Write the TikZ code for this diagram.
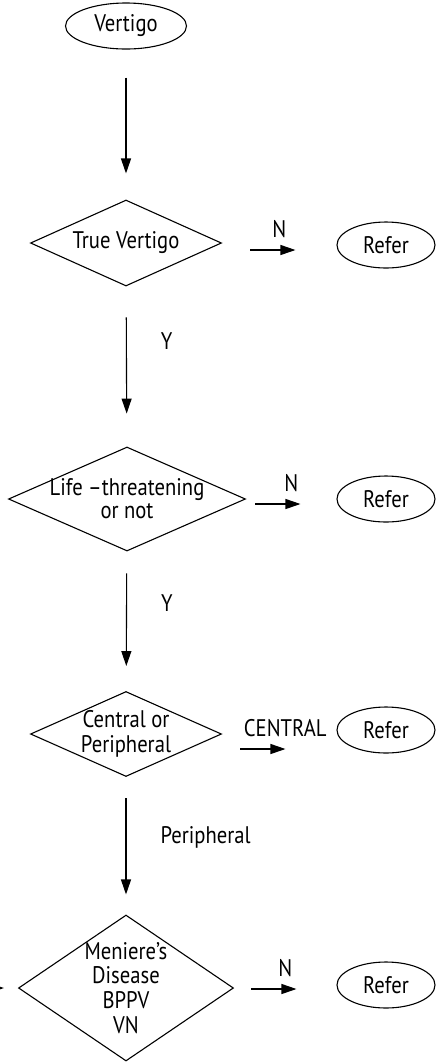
\documentclass[tikz,border=0pt]{standalone}
\usepackage{fontspec}
\setmainfont{PT Sans}[FakeStretch=0.86]
\usepackage{tikz}
\usetikzlibrary{positioning, arrows.meta, shapes.geometric}

\tikzset{
  startend/.style={ellipse, draw, line width=0.55pt, inner sep=0pt, minimum width=60.5pt, minimum height=23pt},
  referbox/.style={ellipse, draw, line width=0.55pt, inner sep=0pt, minimum width=49pt, minimum height=23pt},
  decision/.style={diamond, draw, line width=0.55pt, inner sep=-2.5pt, align=center},
  flow/.style={-{Triangle[length=7.5pt,width=5pt]}, line width=0.55pt},
  answer/.style={inner sep=2pt},
}

\begin{document}
\begin{tikzpicture}[x=0.5pt, y=-0.5pt, font=\fontsize{12}{12.4}\selectfont]
    \useasboundingbox (0,0) rectangle (435,1062);

    % main column
    \node[startend] (vertigo) at (126,26) {Vertigo};
    \node[decision, aspect=2.2, minimum width=95.5pt, minimum height=43pt] (truev) at (126,243) {True Vertigo};
    \node[decision, aspect=2.28, minimum width=118.5pt, minimum height=52pt,
          font=\fontsize{12}{11.4}\selectfont] (life) at (127,499) {Life --threatening\\or not};
    \node[decision, aspect=2.25, minimum width=95.5pt, minimum height=42.5pt] (centper) at (126,734) {Central or\\Peripheral};
    \node[decision, aspect=1.47, minimum width=107.5pt, minimum height=73pt] (meniere) at (126,988) {Meniere's\\Disease\\BPPV\\VN};

    % refer column
    \node[referbox] (refera) at (386,245) {Refer};
    \node[referbox] (referb) at (386,499) {Refer};
    \node[referbox] (referc) at (386,730) {Refer};
    \node[referbox] (referd) at (386,985) {Refer};

    % downward arrows
    \draw[flow, shorten <=14pt, shorten >=13pt] (vertigo) -- (truev);
    \draw[flow, shorten <=15.5pt, shorten >=16.5pt] (truev) -- (life)
      node[answer, pos=0.34, right=15pt] {Y};
    \draw[flow, shorten <=11pt, shorten >=12.5pt] (life) -- (centper)
      node[answer, pos=0.37, right=15pt] {Y};
    \draw[flow, shorten <=10.5pt, shorten >=10pt] (centper) -- (meniere)
      node[answer, pos=0.44, right=15pt] {Peripheral};

    % sideways arrows
    \draw[flow, shorten <=14pt, shorten >=20.5pt] ([yshift=-3.5pt]truev.east) -- ([yshift=-3.5pt]truev.east -| refera.west)
      node[answer, midway, above=4pt] {N};
    \draw[flow, shorten <=4.5pt, shorten >=18pt] ([yshift=-2.5pt]life.east) -- ([yshift=-2.5pt]life.east -| referb.west)
      node[answer, midway, above=4pt] {N};
    \draw[flow, shorten <=9pt, shorten >=25.5pt] ([yshift=-7.5pt]centper.east) -- ([yshift=-7.5pt]centper.east -| referc.west)
      node[answer, midway, above=4pt, xshift=3pt] {CENTRAL};
    \draw[flow, shorten <=8.5pt, shorten >=20pt] ([yshift=-0.5pt]meniere.east) -- ([yshift=-0.5pt]meniere.east -| referd.west)
      node[answer, midway, above=4pt] {N};

    % arrow coming in from the left edge
    \coordinate (fromleft) at (-30,988);
    \draw[flow, shorten >=7pt] (fromleft) -- (meniere.west);
  \end{tikzpicture}
\end{document}
